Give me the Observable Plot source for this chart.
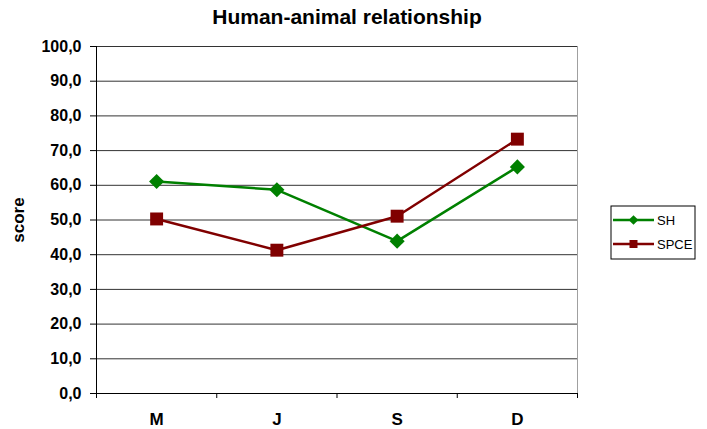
<!DOCTYPE html>
<html>
<head>
<meta charset="utf-8">
<script src="https://cdn.jsdelivr.net/npm/d3@7"></script>
<script src="https://cdn.jsdelivr.net/npm/@observablehq/plot@0.6"></script>
<style>
  html, body { margin: 0; padding: 0; background: #fff; }
</style>
</head>
<body>
<div id="chart"></div>
<script>
const titleText = "Human-animal relationship";
const yLabel = "score";
const categories = ["M", "J", "S", "D"];
const seriesNames = ["SH", "SPCE"];
const shValues = [61.1, 58.7, 43.9, 65.3];
const spceValues = [50.3, 41.3, 51.1, 73.3];
const yTicks = [0, 10, 20, 30, 40, 50, 60, 70, 80, 90, 100];
const colors = ["#008000", "#800000"];

const rows = [];
categories.forEach((c, i) => {
  rows.push({cat: c, series: "SH", value: shValues[i]});
  rows.push({cat: c, series: "SPCE", value: spceValues[i]});
});
const xPos = d => categories.indexOf(d.cat) + 0.5;
const sh = rows.filter(d => d.series === "SH");
const spce = rows.filter(d => d.series === "SPCE");
const boundaries = d3.range(0, categories.length + 1);

const fontFamily = "'Liberation Sans', Arial, sans-serif";

const plot = Plot.plot({
  width: 707,
  height: 429,
  marginLeft: 96,
  marginRight: 130,
  marginTop: 46,
  marginBottom: 36,
  style: {fontFamily, fontSize: "16px", fontWeight: "bold", background: "#fff", color: "#000"},
  x: {type: "linear", domain: [0, categories.length], ticks: boundaries, tickFormat: () => "", tickSize: 5, label: null},
  y: {domain: [0, 100], ticks: yTicks, tickFormat: d => d.toFixed(1).replace(".", ","), tickSize: 6, tickPadding: 9, label: null},
  marks: [
    Plot.ruleY(yTicks.filter(t => t > 0), {stroke: "#333", strokeWidth: 1}),
    Plot.ruleX([categories.length], {stroke: "#a0a0a0", strokeWidth: 1}),
    Plot.ruleX([0], {stroke: "#000", strokeWidth: 1}),
    Plot.ruleY([0], {stroke: "#000", strokeWidth: 1}),
    Plot.line(sh, {x: xPos, y: "value", stroke: colors[0], strokeWidth: 2.5}),
    Plot.line(spce, {x: xPos, y: "value", stroke: colors[1], strokeWidth: 2.5}),
    Plot.dot(sh, {x: xPos, y: "value", symbol: "diamond2", r: 6.8, fill: colors[0], stroke: "none"}),
    Plot.dot(spce, {x: xPos, y: "value", symbol: "square", r: 7.3, fill: colors[1], stroke: "none"}),
    Plot.text(categories, {x: (d, i) => i + 0.5, frameAnchor: "bottom", dy: 26, lineAnchor: "middle", fontSize: 17, fontWeight: "bold", fill: "#000"}),
    Plot.text([yLabel], {frameAnchor: "left", dx: -78, rotate: -90, textAnchor: "middle", lineAnchor: "middle", fontSize: 17, fontWeight: "bold", fill: "#000"}),
    Plot.text([titleText], {frameAnchor: "top", dx: 10, dy: -29, lineAnchor: "middle", textAnchor: "middle", fontSize: 21, fontWeight: "bold", fill: "#000"})
  ]
});

document.getElementById("chart").appendChild(plot);

// Legend
const svg = d3.select(plot.tagName.toLowerCase() === "svg" ? plot : plot.querySelector("svg"));
const lg = svg.append("g").attr("transform", "translate(611,206)");
lg.append("rect").attr("width", 84).attr("height", 53).attr("fill", "#fff").attr("stroke", "#000").attr("stroke-width", 1);
seriesNames.forEach((name, i) => {
  const yy = 14 + i * 24;
  const g = lg.append("g").attr("transform", `translate(0,${yy})`);
  g.append("line").attr("x1", 2).attr("x2", 43).attr("y1", 0).attr("y2", 0).attr("stroke", colors[i]).attr("stroke-width", 2.5);
  if (i === 0) {
    g.append("path").attr("d", d3.symbol(d3.symbolDiamond2, 60)()).attr("transform", "translate(22.5,0)").attr("fill", colors[i]);
  } else {
    g.append("path").attr("d", d3.symbol(d3.symbolSquare, 64)()).attr("transform", "translate(22.5,0)").attr("fill", colors[i]);
  }
  g.append("text").attr("x", 46).attr("y", 0).attr("dy", "0.35em")
    .style("font-family", fontFamily).style("font-size", "13px").style("font-weight", "normal")
    .style("text-anchor", "start").attr("text-anchor", "start")
    .attr("fill", "#000").text(name);
});
</script>
</body>
</html>
